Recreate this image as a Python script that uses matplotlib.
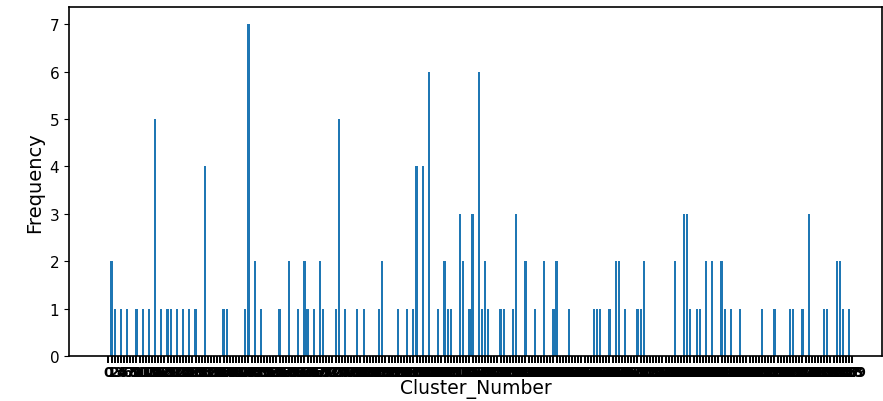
import numpy as np
import matplotlib.pyplot as plt

# Cluster numbers and how often each one occurs
n_clusters = 240
cluster_ids = [1, 2, 4, 6, 9, 11, 13, 15, 17, 19, 20, 22, 24, 26, 28, 31,
               37, 38, 44, 45, 47, 49, 55, 58, 61, 63, 64, 66, 68, 69, 73, 74,
               76, 80, 82, 87, 88, 93, 96, 98, 99, 101, 103, 106, 108, 109, 110,
               113, 114, 116, 117, 119, 120, 121, 122, 126, 127, 130, 131, 134,
               137, 140, 143, 144, 148, 156, 157, 158, 161, 163, 164, 166, 170,
               171, 172, 182, 185, 186, 187, 189, 190, 192, 194, 197, 198, 200,
               203, 210, 214, 219, 220, 223, 225, 230, 231, 234, 235, 236, 238]
counts = [2, 1, 1, 1, 1, 1, 1, 5, 1, 1, 1, 1, 1, 1, 1, 4,
          1, 1, 1, 7, 2, 1, 1, 2, 1, 2, 1, 1, 2, 1, 1, 5,
          1, 1, 1, 1, 2, 1, 1, 1, 4, 4, 6, 1, 2, 1, 1,
          3, 2, 1, 3, 6, 1, 2, 1, 1, 1, 1, 3, 2,
          1, 2, 1, 2, 1, 1, 1, 1, 1, 2, 2, 1, 1,
          1, 2, 2, 3, 3, 1, 1, 1, 2, 2, 2, 1, 1,
          1, 1, 1, 1, 1, 1, 3, 1, 1, 2, 2, 1, 1]

freq = np.zeros(n_clusters)
freq[cluster_ids] = counts
labels = [str(i) for i in range(n_clusters)]

fig = plt.figure(figsize=(8.83, 4.02), dpi=100)
ax = fig.add_axes([0.078, 0.112, 0.921, 0.868])

ax.bar(range(n_clusters), freq, width=0.7, color="#1f77b4")
ax.set_xticks(range(n_clusters))
ax.set_xticklabels(labels, fontsize=10, fontweight="bold")
ax.set_xlim(-12.7, 248.6)
ax.set_ylim(0, 7.36)
ax.tick_params(axis="x", width=1.4, length=5, pad=1.5)
ax.tick_params(axis="y", labelsize=11)
for s in ax.spines.values():
    s.set_linewidth(1.2)

ax.set_xlabel("Cluster_Number", fontsize=13.5, labelpad=-1)
ax.set_ylabel("Frequency", fontsize=14,
              family=["Liberation Sans Narrow", "DejaVu Sans"])

fig.savefig("out.png", dpi=100)
